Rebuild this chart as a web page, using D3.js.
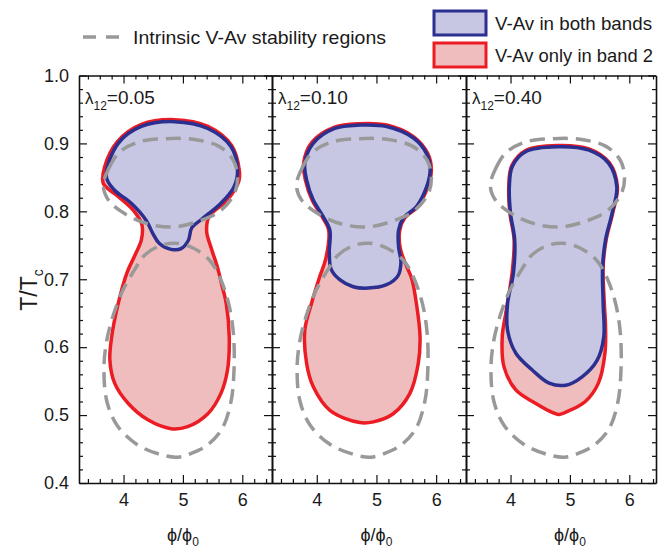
<!DOCTYPE html>
<html>
<head>
<meta charset="utf-8">
<script src="https://cdn.jsdelivr.net/npm/d3@7"></script>
<style>
  html, body { margin: 0; padding: 0; background: #fff; }
  svg { display: block; }
  text { font-family: "Liberation Sans", Arial, sans-serif; fill: #1a1a1a; }
</style>
</head>
<body>
<svg id="chart" width="660" height="548"></svg>
<script>
// ---------------- DATA ----------------
const lambdas = ["0.05", "0.10", "0.40"];
const xMajorTicks = [4, 5, 6];
const yMajorTicks = [0.4, 0.5, 0.6, 0.7, 0.8, 0.9, 1.0];
const legendLabels = ["Intrinsic V-Av stability regions", "V-Av in both bands", "V-Av only in band 2"];

// intrinsic (dashed) stability regions, [phi/phi0, T/Tc]
const intrinsicUpper = [[3.66,0.838],[3.75,0.863],[3.93,0.887],[4.25,0.902],[4.72,0.907],[5.17,0.906],[5.60,0.896],[5.85,0.875],[5.92,0.848],[5.86,0.825],[5.62,0.800],[5.25,0.785],[4.85,0.777],[4.43,0.781],[4.03,0.796],[3.75,0.816]];
const intrinsicLower = [[4.20,0.716],[4.35,0.735],[4.60,0.749],[4.88,0.753],[5.17,0.746],[5.45,0.728],[5.62,0.703],[5.77,0.664],[5.85,0.620],[5.86,0.566],[5.81,0.520],[5.66,0.480],[5.40,0.455],[5.15,0.444],[4.91,0.438],[4.62,0.442],[4.22,0.457],[3.89,0.485],[3.72,0.520],[3.67,0.566],[3.71,0.606],[3.82,0.645],[3.99,0.684]];

// lambda12 = 0.05
const band2Only_005 = [[4.86,0.935],[5.42,0.925],[5.82,0.897],[5.95,0.860],[5.94,0.844],[5.75,0.817],[5.44,0.792],[5.40,0.770],[5.48,0.745],[5.58,0.718],[5.66,0.690],[5.73,0.664],[5.78,0.615],[5.75,0.566],[5.64,0.532],[5.42,0.502],[5.08,0.483],[4.80,0.480],[4.41,0.493],[4.08,0.517],[3.85,0.547],[3.77,0.581],[3.80,0.615],[3.91,0.664],[4.06,0.710],[4.19,0.735],[4.30,0.758],[4.31,0.780],[4.18,0.800],[3.91,0.822],[3.66,0.841],[3.68,0.865],[3.90,0.903],[4.30,0.928]];
const bothBands_005 = [[4.86,0.932],[5.42,0.922],[5.81,0.895],[5.92,0.861],[5.86,0.836],[5.64,0.812],[5.31,0.788],[5.15,0.776],[5.09,0.757],[4.97,0.745],[4.80,0.744],[4.60,0.753],[4.49,0.768],[4.38,0.787],[4.13,0.812],[3.85,0.831],[3.71,0.851],[3.91,0.900],[4.30,0.925]];

// lambda12 = 0.10
const band2Only_010 = [[4.72,0.929],[5.17,0.927],[5.62,0.910],[5.86,0.885],[5.92,0.861],[5.86,0.836],[5.69,0.807],[5.47,0.790],[5.39,0.772],[5.40,0.745],[5.50,0.720],[5.59,0.701],[5.67,0.664],[5.73,0.615],[5.70,0.576],[5.56,0.532],[5.28,0.502],[4.95,0.490],[4.72,0.489],[4.22,0.507],[3.94,0.542],[3.83,0.576],[3.80,0.625],[3.91,0.664],[4.05,0.704],[4.15,0.730],[4.20,0.772],[4.09,0.792],[3.92,0.817],[3.81,0.846],[3.78,0.871],[3.92,0.902],[4.30,0.924]];
const bothBands_010 = [[4.72,0.927],[5.17,0.925],[5.62,0.908],[5.84,0.885],[5.90,0.861],[5.84,0.836],[5.67,0.807],[5.45,0.790],[5.37,0.772],[5.37,0.748],[5.41,0.725],[5.36,0.705],[5.17,0.692],[4.86,0.687],[4.61,0.689],[4.39,0.699],[4.24,0.715],[4.21,0.740],[4.22,0.772],[4.11,0.792],[3.94,0.817],[3.83,0.846],[3.80,0.871],[3.94,0.900],[4.30,0.922]];

// lambda12 = 0.40
const band2Only_040 = [[4.79,0.897],[5.32,0.892],[5.66,0.872],[5.80,0.836],[5.72,0.797],[5.61,0.758],[5.56,0.718],[5.58,0.664],[5.60,0.632],[5.59,0.591],[5.48,0.547],[5.26,0.520],[4.95,0.505],[4.81,0.501],[4.37,0.520],[4.09,0.537],[3.89,0.571],[3.86,0.615],[3.92,0.650],[4.03,0.712],[4.06,0.758],[3.99,0.797],[3.97,0.836],[4.02,0.867],[4.26,0.890]];
const bothBands_040 = [[4.79,0.895],[5.32,0.890],[5.65,0.871],[5.79,0.836],[5.71,0.797],[5.60,0.758],[5.55,0.718],[5.56,0.664],[5.57,0.615],[5.46,0.581],[5.20,0.556],[4.93,0.544],[4.65,0.547],[4.37,0.566],[4.09,0.591],[3.95,0.625],[3.95,0.664],[4.05,0.710],[4.07,0.758],[4.00,0.797],[3.98,0.836],[4.03,0.866],[4.26,0.888]];

const band2Only = [band2Only_005, band2Only_010, band2Only_040];
const bothBands = [bothBands_005, bothBands_010, bothBands_040];

(function () {
// ---------------- LAYOUT ----------------
const svg = d3.select("#chart");
const yTop = 75.5, yBottom = 483;
const panels = [
  {x0: 79,  x1: 272, dom: [3.25, 6.5]},
  {x0: 272, x1: 466, dom: [3.25, 6.5]},
  {x0: 466, x1: 656, dom: [3.25, 6.45]}
];
const y = d3.scaleLinear().domain([0.4, 1.0]).range([yBottom, yTop]);

const BLUE = "#2b2f8f", BLUEFILL = "#c7c7e4";
const RED = "#ec1c24", REDFILL = "#efbdbd";
const GRAY = "#999999";

const yMinor = d3.range(0.42, 1.0, 0.02).filter(v => Math.abs(Math.round(v*10) - v*10) > 1e-6);

panels.forEach((p, i) => {
  const x = d3.scaleLinear().domain(p.dom).range([p.x0, p.x1]);
  const g = svg.append("g");
  const line = d3.line().x(d => x(d[0])).y(d => y(d[1])).curve(d3.curveCatmullRomClosed.alpha(0.5));

  // regions
  g.append("path").attr("d", line(band2Only[i])).attr("fill", REDFILL).attr("stroke", RED).attr("stroke-width", 3.5).attr("stroke-linejoin", "round");
  g.append("path").attr("d", line(bothBands[i])).attr("fill", BLUEFILL).attr("stroke", BLUE).attr("stroke-width", 3.5).attr("stroke-linejoin", "round");
  [intrinsicUpper, intrinsicLower].forEach(loop => {
    g.append("path").attr("d", line(loop)).attr("fill", "none").attr("stroke", GRAY)
      .attr("stroke-width", 3.5).attr("stroke-dasharray", "15,8");
  });

  const xMinor = d3.range(3.4, p.dom[1] + 1e-6, 0.2).filter(v => Math.abs(v - Math.round(v)) > 1e-6);

  // bottom axis
  const bAx = svg.append("g").attr("transform", `translate(0,${yBottom})`);
  bAx.call(d3.axisBottom(x).tickValues(xMajorTicks).tickSizeInner(-8).tickSizeOuter(0).tickPadding(10).tickFormat(d3.format("d")));
  const bMin = svg.append("g").attr("transform", `translate(0,${yBottom})`);
  bMin.call(d3.axisBottom(x).tickValues(xMinor).tickSizeInner(-4).tickSizeOuter(0).tickFormat(""));
  bMin.select(".domain").remove();
  // top axis
  const tAx = svg.append("g").attr("transform", `translate(0,${yTop})`);
  tAx.call(d3.axisTop(x).tickValues(xMajorTicks).tickSizeInner(-8).tickSizeOuter(0).tickFormat(""));
  const tMin = svg.append("g").attr("transform", `translate(0,${yTop})`);
  tMin.call(d3.axisTop(x).tickValues(xMinor).tickSizeInner(-4).tickSizeOuter(0).tickFormat(""));
  tMin.select(".domain").remove();

  // left y ticks (inward)
  const lAx = svg.append("g").attr("transform", `translate(${p.x0},0)`);
  lAx.call(d3.axisLeft(y).tickValues(yMajorTicks).tickSizeInner(-8).tickSizeOuter(0).tickPadding(10)
    .tickFormat(i === 0 ? d3.format(".1f") : ""));
  const lMin = svg.append("g").attr("transform", `translate(${p.x0},0)`);
  lMin.call(d3.axisLeft(y).tickValues(yMinor).tickSizeInner(-4).tickSizeOuter(0).tickFormat(""));
  lMin.select(".domain").remove();
  // right y ticks (inward)
  const rAx = svg.append("g").attr("transform", `translate(${p.x1},0)`);
  rAx.call(d3.axisRight(y).tickValues(yMajorTicks).tickSizeInner(-8).tickSizeOuter(0).tickFormat(""));
  const rMin = svg.append("g").attr("transform", `translate(${p.x1},0)`);
  rMin.call(d3.axisRight(y).tickValues(yMinor).tickSizeInner(-4).tickSizeOuter(0).tickFormat(""));
  rMin.select(".domain").remove();

  [bAx, tAx, lAx, rAx].forEach(a => a.select(".domain").attr("stroke", "#111").attr("stroke-width", 1.6));

  // x title
  const xt = svg.append("text").attr("x", x(5)).attr("y", 541).attr("text-anchor", "middle")
    .style("font-size", "18px");
  xt.append("tspan").text("ϕ/ϕ");
  xt.append("tspan").attr("dy", 5).style("font-size", "12px").text("0");

  // lambda label
  const lt = svg.append("text").attr("x", p.x0 + 6).attr("y", 104).style("font-size", "19px");
  lt.append("tspan").style("font-size", "17px").text("λ");
  lt.append("tspan").attr("dy", 6).style("font-size", "12px").text("12");
  lt.append("tspan").attr("dy", -6).text("=" + lambdas[i]);
});

svg.selectAll(".tick text").style("font-family", '"Liberation Sans", Arial, sans-serif').style("font-size", "18px").attr("fill", "#1a1a1a");
svg.selectAll(".tick line").attr("stroke", "#111").attr("stroke-width", 1.2);

// y title
const yt = svg.append("text").attr("transform", "translate(37,290) rotate(-90)").attr("text-anchor", "middle")
  .style("font-size", "23px");
yt.append("tspan").text("T/T");
yt.append("tspan").attr("dy", 6).style("font-size", "14px").text("c");

// ---------------- LEGEND ----------------
const lg = svg.append("g");
lg.append("line").attr("x1", 83).attr("x2", 120).attr("y1", 37).attr("y2", 37)
  .attr("stroke", GRAY).attr("stroke-width", 3.5).attr("stroke-dasharray", "13,10");
lg.append("text").attr("x", 133).attr("y", 44).style("font-size", "19px")
  .attr("textLength", 253).attr("lengthAdjust", "spacingAndGlyphs").text(legendLabels[0]);

lg.append("rect").attr("x", 434).attr("y", 11).attr("width", 52).attr("height", 24)
  .attr("fill", BLUEFILL).attr("stroke", BLUE).attr("stroke-width", 3);
lg.append("text").attr("x", 495).attr("y", 30).style("font-size", "19px")
  .attr("textLength", 157).attr("lengthAdjust", "spacingAndGlyphs").text(legendLabels[1]);
lg.append("rect").attr("x", 434).attr("y", 43).attr("width", 52).attr("height", 24)
  .attr("fill", REDFILL).attr("stroke", RED).attr("stroke-width", 3);
lg.append("text").attr("x", 495).attr("y", 62).style("font-size", "19px")
  .attr("textLength", 158).attr("lengthAdjust", "spacingAndGlyphs").text(legendLabels[2]);
})();
</script>
</body>
</html>
